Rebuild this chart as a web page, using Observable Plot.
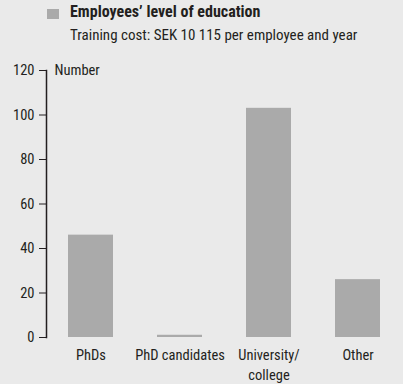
<!DOCTYPE html>
<html>
<head>
<meta charset="utf-8">
<script src="https://cdn.jsdelivr.net/npm/d3@7"></script>
<script src="https://cdn.jsdelivr.net/npm/@observablehq/plot@0.6"></script>
<style>
  html, body { margin: 0; padding: 0; background: #eaeaea; }
  body { width: 403px; height: 384px; overflow: hidden; font-family: "Roboto Condensed", "Open Sans", sans-serif; font-stretch: condensed; color: #231f20; }
  #header { position: relative; height: 50px; }
  #swatch { position: absolute; left: 47px; top: 9px; width: 12px; height: 10px; background: #aaaaaa; }
  #title { position: absolute; left: 70px; top: 3px; font-size: 16px; font-weight: bold; line-height: 18px; white-space: nowrap; }
  #subtitle { position: absolute; left: 70px; top: 26px; font-size: 15px; line-height: 18px; white-space: nowrap; }
  #chart svg { display: block; }
</style>
</head>
<body>
<div id="header">
  <div id="swatch"></div>
  <div id="title">Employees’ level of education</div>
  <div id="subtitle">Training cost: SEK 10 115 per employee and year</div>
</div>
<div id="chart"></div>
<script>
// Number of employees by level of education
const categories = ["PhDs", "PhD candidates", "University/\ncollege", "Other"];
const counts = [46, 1, 103, 26];
const yTicks = [0, 20, 40, 60, 80, 100, 120];

const rows = categories.map((category, i) => ({category, count: counts[i]}));

const font = "'Roboto Condensed', 'Open Sans', sans-serif";

const chart = Plot.plot({
  width: 403,
  height: 334,
  marginTop: 20,
  marginLeft: 46,
  marginRight: 1,
  marginBottom: 47,
  style: {
    background: "#eaeaea",
    color: "#231f20",
    fontFamily: font,
    fontSize: "14.5px"
  },
  x: {domain: categories, paddingInner: 0.5, paddingOuter: 0.25, label: null},
  y: {domain: [0, 120], ticks: yTicks, label: null},
  marks: [
    Plot.barY(rows, {x: "category", y: "count", fill: "#aaaaaa"}),
    Plot.axisY({ticks: yTicks, tickSize: 7, tickPadding: 5, fontSize: 14.5, label: null, stroke: "#231f20"}),
    Plot.axisX({tickSize: 0, tickPadding: 8, fontSize: 14.5, lineHeight: 1.4, label: null}),
    Plot.frame({anchor: "left", stroke: "#231f20", strokeWidth: 1.5}),
    Plot.ruleY([0], {x1: -7, stroke: "#231f20", strokeWidth: 1.5}),
    Plot.text(["Number"], {frameAnchor: "top-left", dx: 8, dy: 0, textAnchor: "start", lineAnchor: "middle", fontSize: 14.5})
  ]
});
document.getElementById("chart").appendChild(chart);
</script>
</body>
</html>
